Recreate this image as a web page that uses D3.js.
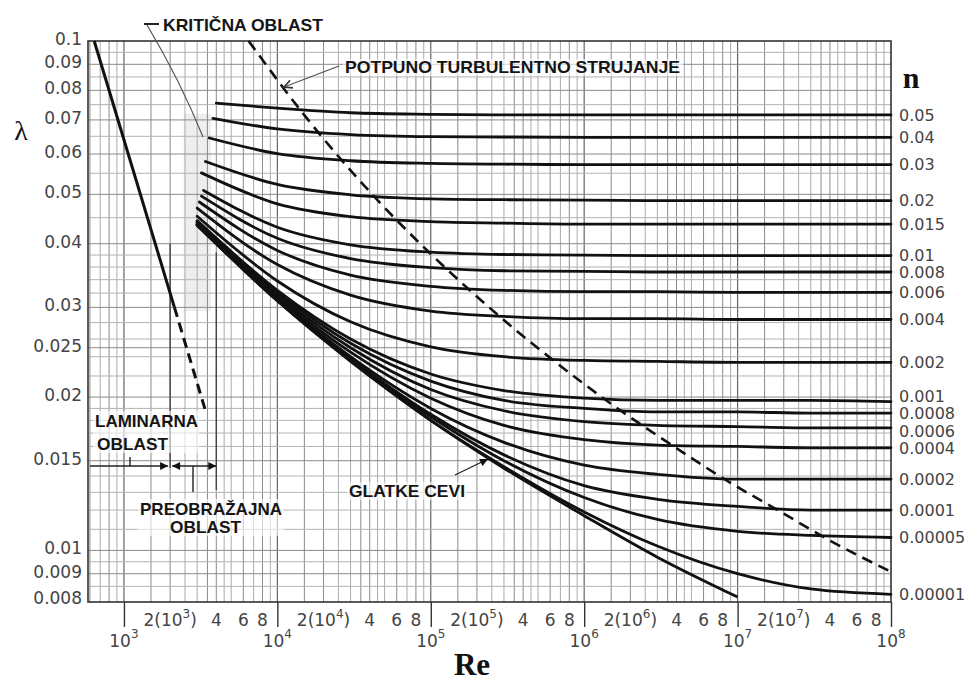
<!DOCTYPE html>
<html><head><meta charset="utf-8">
<script src="https://cdn.jsdelivr.net/npm/d3@7"></script>
<style>
body{margin:0;background:#fff;}
svg{display:block;}
</style></head><body>
<svg id="chart" width="976" height="682"></svg>
<script>
// ---------------- DATA ----------------
// Relative roughness n for each curve (right-hand labels)
const roughnessLabels = ["0.05","0.04","0.03","0.02","0.015","0.01","0.008","0.006","0.004","0.002","0.001","0.0008","0.0006","0.0004","0.0002","0.0001","0.00005","0.00001"];
// first point of each curve (Re, λ)
const startRe     = [4000, 3800, 3600, 3400, 3200, 3300, 3200, 3100, 3000, 3000, 3000, 3000, 3000, 3000, 3000, 3000, 3000, 3000];
const startLambda = [0.0755, 0.0705, 0.0645, 0.0580, 0.0551, 0.0509, 0.0496, 0.0483, 0.0470, 0.0453, 0.0444, 0.0442, 0.0441, 0.0439, 0.0437, 0.0436, 0.0436, 0.0435];
// Re values at which λ was read
const reSamples = [1e4, 3e4, 1e5, 3e5, 1e6, 3e6, 1e7, 3e7, 1e8];
// λ read at reSamples, one row per roughness
const lambdaRows = [
  [0.0738, 0.0723, 0.0718, 0.0716, 0.0716, 0.0716, 0.0716, 0.0716, 0.0716],
  [0.0672, 0.0655, 0.0649, 0.0648, 0.0647, 0.0647, 0.0647, 0.0647, 0.0647],
  [0.0601, 0.0582, 0.0575, 0.0573, 0.0572, 0.0572, 0.0572, 0.0572, 0.0572],
  [0.0523, 0.0499, 0.0490, 0.0488, 0.0487, 0.0486, 0.0486, 0.0486, 0.0486],
  [0.0479, 0.0452, 0.0442, 0.0439, 0.0437, 0.0437, 0.0437, 0.0437, 0.0437],
  [0.0431, 0.0398, 0.0385, 0.0381, 0.0380, 0.0379, 0.0379, 0.0379, 0.0379],
  [0.0410, 0.0374, 0.0359, 0.0354, 0.0353, 0.0352, 0.0352, 0.0352, 0.0352],
  [0.0388, 0.0347, 0.0330, 0.0324, 0.0322, 0.0322, 0.0321, 0.0321, 0.0321],
  [0.0364, 0.0317, 0.0295, 0.0288, 0.0285, 0.0285, 0.0284, 0.0284, 0.0284],
  [0.0338, 0.0281, 0.0251, 0.0240, 0.0236, 0.0235, 0.0234, 0.0234, 0.0234],
  [0.0324, 0.0260, 0.0222, 0.0206, 0.0199, 0.0197, 0.0197, 0.0197, 0.0196],
  [0.0321, 0.0255, 0.0215, 0.0197, 0.0190, 0.0187, 0.0187, 0.0186, 0.0186],
  [0.0318, 0.0250, 0.0207, 0.0188, 0.0179, 0.0176, 0.0175, 0.0174, 0.0174],
  [0.0315, 0.0245, 0.0199, 0.0176, 0.0165, 0.0161, 0.0160, 0.0159, 0.0159],
  [0.0312, 0.0240, 0.0190, 0.0163, 0.0147, 0.0141, 0.0138, 0.0138, 0.0138],
  [0.0310, 0.0238, 0.0185, 0.0154, 0.0134, 0.0126, 0.0122, 0.0120, 0.0120],
  [0.0310, 0.0236, 0.0183, 0.0150, 0.0127, 0.0115, 0.0109, 0.0107, 0.0106],
  [0.0309, 0.0236, 0.0180, 0.0146, 0.0119, 0.0102, 0.0090, 0.0084, 0.0082]
];
// smooth pipes ("glatke cevi")
const smoothRe     = [3000, 1e4, 3e4, 1e5, 3e5, 1e6, 3e6, 1e7];
const smoothLambda = [0.0435, 0.0309, 0.0235, 0.0180, 0.0145, 0.0117, 0.0097, 0.0081];
// laminar line (solid part, dashed continuation)
const laminarRe = [640, 2133];
const laminarLambda = [0.100, 0.030];
const laminarDashRe = [2133, 3400];
const laminarDashLambda = [0.030, 0.0188];
// boundary of fully turbulent flow (dashed)
const roughBoundaryRe     = [6500, 14950, 45300, 102700, 296600, 653400, 1.427e6, 3.966e6, 8.53e6, 1.827e7, 3.895e7, 1e8];
const roughBoundaryLambda = [0.100, 0.0716, 0.0486, 0.0379, 0.0284, 0.0234, 0.0196, 0.0159, 0.0137, 0.0120, 0.0105, 0.00908];
// critical zone shading (Re range, λ range)
const criticalRe = [2450, 3700];
const criticalLambda = [0.0295, 0.072];
// axis ticks
const yTickValues = [0.1, 0.09, 0.08, 0.07, 0.06, 0.05, 0.04, 0.03, 0.025, 0.02, 0.015, 0.01, 0.009, 0.008];
const xDecadeExp = [3, 4, 5, 6, 7, 8];
const xSubMultipliers = [2, 4, 6, 8];
const gridMultipliers = [1.5, 2, 2.5, 3, 3.5, 4, 4.5, 5, 6, 7, 8, 9];
const gridLambda = [0.0085,0.009,0.0095,0.01,0.011,0.012,0.013,0.014,0.015,0.016,0.017,0.018,0.019,0.02,0.022,0.024,0.025,0.026,0.028,0.03,0.032,0.034,0.036,0.038,0.04,0.045,0.05,0.055,0.06,0.065,0.07,0.075,0.08,0.085,0.09,0.095];

// ---------------- DRAWING ----------------
const svg = d3.select("#chart");
const x = d3.scaleLog().domain([583, 1e8]).range([88, 891]);
const y = d3.scaleLog().domain([0.00792, 0.1]).range([602, 41]);
const X0 = x.range()[0], X1 = x.range()[1], Y0 = y.range()[0], Y1 = y.range()[1];

svg.append("rect").attr("width", 976).attr("height", 682).attr("fill", "#fff");

const defs = svg.append("defs");
defs.append("marker").attr("id", "arr").attr("viewBox", "0 0 10 10")
  .attr("refX", 10).attr("refY", 5).attr("markerWidth", 10).attr("markerHeight", 8)
  .attr("markerUnits", "userSpaceOnUse").attr("orient", "auto-start-reverse")
  .append("path").attr("d", "M0,0L10,5L0,10z").attr("fill", "#111");
defs.append("marker").attr("id", "arrOpen").attr("viewBox", "0 0 10 10")
  .attr("refX", 9).attr("refY", 5).attr("markerWidth", 12).attr("markerHeight", 10)
  .attr("markerUnits", "userSpaceOnUse").attr("orient", "auto")
  .append("path").attr("d", "M1,1L9,5L1,9").attr("fill", "none").attr("stroke", "#333").attr("stroke-width", 1.6);

// critical zone shading
svg.append("rect")
  .attr("x", x(criticalRe[0])).attr("width", x(criticalRe[1]) - x(criticalRe[0]))
  .attr("y", y(criticalLambda[1])).attr("height", y(criticalLambda[0]) - y(criticalLambda[1]))
  .attr("fill", "#eeeeee");

// grid
const grid = svg.append("g");
const vLines = [];
[100, 1e3, 1e4, 1e5, 1e6, 1e7].forEach(d => gridMultipliers.forEach(k => {
  const v = k * d; if (v > x.domain()[0] && v < x.domain()[1]) vLines.push(v);
}));
grid.selectAll("line.v").data(vLines).join("line")
  .attr("x1", d => x(d)).attr("x2", d => x(d)).attr("y1", Y1).attr("y2", Y0)
  .attr("stroke", d => xSubMultipliers.includes(Math.round(d / Math.pow(10, Math.floor(Math.log10(d))))) ? "#8a8a8a" : "#ababab")
  .attr("stroke-width", 1);
grid.selectAll("line.d").data(xDecadeExp.slice(0, 5)).join("line")
  .attr("x1", d => x(Math.pow(10, d))).attr("x2", d => x(Math.pow(10, d)))
  .attr("y1", Y1).attr("y2", Y0).attr("stroke", "#666").attr("stroke-width", 1.2);
grid.selectAll("line.h").data(gridLambda).join("line")
  .attr("x1", X0).attr("x2", X1).attr("y1", d => y(d)).attr("y2", d => y(d))
  .attr("stroke", d => yTickValues.includes(d) ? "#8a8a8a" : "#b3b3b3").attr("stroke-width", 1);

// critical zone boundary lines
svg.append("line").attr("x1", x(2000)).attr("x2", x(2000)).attr("y1", y(0.040)).attr("y2", 468)
  .attr("stroke", "#444").attr("stroke-width", 1.4);
svg.append("line").attr("x1", x(4000)).attr("x2", x(4000)).attr("y1", y(0.0385)).attr("y2", 490)
  .attr("stroke", "#444").attr("stroke-width", 1.4);

// frame
svg.append("rect").attr("x", X0).attr("y", Y1).attr("width", X1 - X0).attr("height", Y0 - Y1)
  .attr("fill", "none").attr("stroke", "#333").attr("stroke-width", 1.6);

const line = d3.line().x(d => x(d[0])).y(d => y(d[1])).curve(d3.curveMonotoneX);

// roughness curves
const curves = roughnessLabels.map((lab, i) => {
  const pts = [[startRe[i], startLambda[i]]].concat(reSamples.map((r, j) => [r, lambdaRows[i][j]]));
  return { lab, pts };
});
svg.append("g").selectAll("path").data(curves).join("path")
  .attr("d", d => line(d.pts)).attr("fill", "none").attr("stroke", "#111")
  .attr("stroke-width", 2.8).attr("stroke-linecap", "round");

// smooth pipe line
svg.append("path").attr("d", line(smoothRe.map((r, i) => [r, smoothLambda[i]])))
  .attr("fill", "none").attr("stroke", "#111").attr("stroke-width", 2.8);

// laminar
const straight = d3.line().x(d => x(d[0])).y(d => y(d[1]));
svg.append("path").attr("d", straight(laminarRe.map((r, i) => [r, laminarLambda[i]])))
  .attr("fill", "none").attr("stroke", "#111").attr("stroke-width", 3);
svg.append("path").attr("d", straight(laminarDashRe.map((r, i) => [r, laminarDashLambda[i]])))
  .attr("fill", "none").attr("stroke", "#111").attr("stroke-width", 3).attr("stroke-dasharray", "10,6");

// fully turbulent boundary
svg.append("path").attr("d", line(roughBoundaryRe.map((r, i) => [r, roughBoundaryLambda[i]])))
  .attr("fill", "none").attr("stroke", "#111").attr("stroke-width", 2.6).attr("stroke-dasharray", "11,7");

// y axis labels
const yAxis = d3.axisLeft(y).tickValues(yTickValues).tickSize(0).tickPadding(5)
  .tickFormat(d => String(d));
const yg = svg.append("g").attr("transform", `translate(${X0 - 1},-2)`).call(yAxis);
yg.select(".domain").remove();
yg.selectAll("text").attr("font-family", "DejaVu Sans").attr("font-size", 17).attr("fill", "#444");

// x axis decade ticks
const xAxis = d3.axisBottom(x).tickValues(xDecadeExp.map(e => Math.pow(10, e))).tickSize(25).tickFormat("");
const xg = svg.append("g").attr("transform", `translate(0,${Y0})`).call(xAxis);
xg.select(".domain").remove();
xg.selectAll(".tick line").attr("stroke", "#333").attr("stroke-width", 1.4);

const labG = svg.append("g").attr("font-family", "DejaVu Sans").attr("font-size", 17).attr("fill", "#444");
// decade labels 10^n
xDecadeExp.forEach(e => {
  const t = labG.append("text").attr("x", x(Math.pow(10, e))).attr("y", 647).attr("text-anchor", "middle");
  t.append("tspan").text("10");
  t.append("tspan").attr("dy", -9).attr("font-size", 12).text(String(e));
});
// sub-decade labels: 2(10^n) 4 6 8
xDecadeExp.slice(0, 5).forEach(e => {
  xSubMultipliers.forEach(k => {
    const t = labG.append("text").attr("x", x(k * Math.pow(10, e))).attr("y", 626).attr("text-anchor", "middle");
    if (k === 2) {
      t.append("tspan").text("2(10");
      t.append("tspan").attr("dy", -8).attr("font-size", 12).text(String(e));
      t.append("tspan").attr("dy", 8).text(")");
    } else {
      t.text(String(k));
    }
  });
});

// right-hand roughness labels (with simple collision relaxation)
const GAP = 17.5;
const rl = curves.map(c => ({ lab: c.lab, y: y(c.pts[c.pts.length - 1][1]) }));
for (let it = 0; it < 80; it++) {
  for (let i = 1; i < rl.length; i++) {
    const gap = rl[i].y - rl[i - 1].y;
    if (gap < GAP) { const s = (GAP - gap) / 2; rl[i].y += s; rl[i - 1].y -= s; }
  }
}
svg.append("g").attr("font-family", "DejaVu Sans").attr("font-size", 16).attr("fill", "#444")
  .selectAll("text").data(rl).join("text")
  .attr("x", X1 + 8).attr("y", d => d.y).attr("dy", "0.35em").text(d => d.lab);

// axis titles
svg.append("text").attr("x", 21).attr("y", 140).attr("text-anchor", "middle")
  .attr("font-family", "Liberation Serif").attr("font-size", 28).attr("fill", "#111").text("λ");
svg.append("text").attr("x", 911).attr("y", 88).attr("text-anchor", "middle")
  .attr("font-family", "Liberation Serif").attr("font-weight", "bold").attr("font-size", 30).attr("fill", "#111").text("n");
svg.append("text").attr("x", 472).attr("y", 675).attr("text-anchor", "middle")
  .attr("font-family", "Liberation Serif").attr("font-weight", "bold").attr("font-size", 31).attr("fill", "#111").text("Re");

// annotations
const ann = svg.append("g").attr("font-family", "Liberation Sans").attr("font-weight", "bold")
  .attr("font-size", 17).attr("fill", "#151515");
function annText(txt, px, py, len) {
  ann.append("text").attr("x", px).attr("y", py).attr("textLength", len)
    .attr("lengthAdjust", "spacingAndGlyphs").text(txt);
}
// light patches under in-plot labels
ann.append("rect").attr("x", 93).attr("y", 411).attr("width", 106).attr("height", 42).attr("fill", "#fff").attr("opacity", 0.6);
ann.append("rect").attr("x", 138).attr("y", 499).attr("width", 146).attr("height", 37).attr("fill", "#fff").attr("opacity", 0.6);
ann.append("rect").attr("x", 347).attr("y", 482).attr("width", 120).attr("height", 18).attr("fill", "#fff").attr("opacity", 0.6);
ann.append("rect").attr("x", 343).attr("y", 59).attr("width", 340).attr("height", 17).attr("fill", "#fff").attr("opacity", 0.6);

annText("KRITIČNA OBLAST", 163, 31, 160);
annText("POTPUNO TURBULENTNO STRUJANJE", 345, 73, 335);
annText("LAMINARNA", 95, 427, 103);
annText("OBLAST", 97, 450, 71);
annText("PREOBRAŽAJNA", 140, 515, 142);
annText("OBLAST", 170, 533, 71);
annText("GLATKE CEVI", 349, 497, 116);

const lg = svg.append("g").attr("stroke", "#222").attr("fill", "none");
// KRITIČNA OBLAST leader
lg.append("line").attr("x1", 144).attr("x2", 159).attr("y1", 24).attr("y2", 24).attr("stroke-width", 2);
lg.append("path").attr("d", "M147,25 Q180,80 203,137").attr("stroke-width", 1.2).attr("stroke", "#555");
// POTPUNO leader
lg.append("line").attr("x1", 339).attr("y1", 66).attr("x2", 284).attr("y2", 87)
  .attr("stroke-width", 1.3).attr("stroke", "#555").attr("marker-end", "url(#arrOpen)");
// GLATKE CEVI leader
lg.append("line").attr("x1", 455).attr("y1", 475).attr("x2", 488).attr("y2", 459)
  .attr("stroke-width", 1.3).attr("marker-end", "url(#arr)");
// laminar / transition arrows
lg.append("line").attr("x1", 90).attr("x2", x(2000) - 2).attr("y1", 466).attr("y2", 466)
  .attr("stroke-width", 1.6).attr("marker-end", "url(#arr)");
lg.append("line").attr("x1", x(2000) + 2).attr("x2", x(4000)).attr("y1", 466).attr("y2", 466)
  .attr("stroke-width", 1.6).attr("marker-start", "url(#arr)").attr("marker-end", "url(#arr)");
lg.append("line").attr("x1", 130).attr("x2", 130).attr("y1", 457).attr("y2", 466).attr("stroke-width", 1.4);
lg.append("line").attr("x1", 193).attr("x2", 193).attr("y1", 466).attr("y2", 492).attr("stroke-width", 1.4);
</script>
</body></html>
